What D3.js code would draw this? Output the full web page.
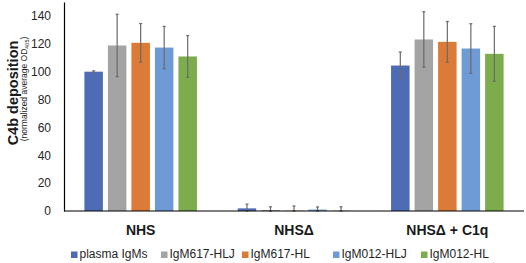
<!DOCTYPE html>
<meta charset="utf-8">
<head>
<style>
body { margin: 0; background: #fff; }
text { font-family: "Liberation Sans", Arial, sans-serif; }
.axis text { font-size: 12px; fill: #262626; }
.axis path, .axis line { stroke: #000; }
</style>
</head>
<body>
<svg width="526" height="263"></svg>
<script src="https://cdn.jsdelivr.net/npm/d3@7"></script>
<script>
var groups = ["NHS", "NHS\u0394", "NHS\u0394 + C1q"];
var series = ["plasma IgMs", "IgM617-HLJ", "IgM617-HL", "IgM012-HLJ", "IgM012-HL"];
var colors = ["#4e6cb6", "#a4a4a4", "#db7b37", "#6e9bd6", "#7dac4c"];
// values[group][series]
var values = [
  [100, 118.8, 120.7, 117.3, 110.9],
  [1.9, 0.7, 0.2, 1.0, 0.2],
  [104.4, 123.1, 121.4, 116.6, 112.8]
];
var errors = [
  [0.6, 22.4, 13.8, 15.2, 15.0],
  [3.0, 2.3, 3.4, 1.9, 2.8],
  [9.7, 19.9, 14.6, 17.8, 19.7]
];
var yTicks = [0, 20, 40, 60, 80, 100, 120, 140];

var svg = d3.select("svg"),
    margin = {top: 2, right: 2, bottom: 52, left: 64},
    width = +svg.attr("width") - margin.left - margin.right,
    height = +svg.attr("height") - margin.top - margin.bottom,
    g = svg.append("g").attr("transform", "translate(" + margin.left + "," + margin.top + ")");

var x0 = d3.scaleBand().domain(groups).range([0, width]).paddingInner(0.266).paddingOuter(0.133);
var x1 = d3.scaleBand().domain(series).range([0, x0.bandwidth()]).paddingInner(0.213).paddingOuter(0);
var y = d3.scaleLinear().domain([0, 150]).range([height, 0]);
var color = d3.scaleOrdinal().domain(series).range(colors);

var yAxis = g.append("g")
    .attr("class", "axis")
    .call(d3.axisLeft(y).tickValues(yTicks).tickSize(0).tickPadding(13));
yAxis.select(".domain").attr("stroke-width", 1.2);

var data = [];
groups.forEach(function(gr, i) {
  series.forEach(function(s, j) {
    data.push({group: gr, series: s, value: values[i][j], err: errors[i][j]});
  });
});

g.selectAll("rect.bar")
  .data(data)
  .enter().append("rect")
    .attr("class", "bar")
    .attr("x", function(d) { return x0(d.group) + x1(d.series); })
    .attr("width", x1.bandwidth())
    .attr("y", function(d) { return y(d.value); })
    .attr("height", function(d) { return y(0) - y(d.value); })
    .attr("fill", function(d) { return color(d.series); });

var eb = g.selectAll("g.err")
  .data(data)
  .enter().append("g")
    .attr("class", "err")
    .attr("stroke", "#6a6a6a")
    .attr("stroke-width", 1.2);
eb.append("line")
    .attr("x1", function(d) { return x0(d.group) + x1(d.series) + x1.bandwidth() / 2; })
    .attr("x2", function(d) { return x0(d.group) + x1(d.series) + x1.bandwidth() / 2; })
    .attr("y1", function(d) { return y(d.value + d.err); })
    .attr("y2", function(d) { return y(Math.max(0, d.value - d.err)); });
[1, -1].forEach(function(sign) {
  eb.append("line")
      .attr("x1", function(d) { return x0(d.group) + x1(d.series) + x1.bandwidth() / 2 - 1.5; })
      .attr("x2", function(d) { return x0(d.group) + x1(d.series) + x1.bandwidth() / 2 + 1.5; })
      .attr("y1", function(d) { return y(Math.max(0, d.value + sign * d.err)); })
      .attr("y2", function(d) { return y(Math.max(0, d.value + sign * d.err)); });
});

// x axis baseline
g.append("line")
    .attr("x1", 0).attr("x2", width)
    .attr("y1", y(0)).attr("y2", y(0))
    .attr("stroke", "#000").attr("stroke-width", 1.2);

g.selectAll("text.cat")
  .data(groups)
  .enter().append("text")
    .attr("class", "cat")
    .attr("x", function(d) { return x0(d) + x0.bandwidth() / 2; })
    .attr("y", height + 24)
    .attr("text-anchor", "middle")
    .style("font-size", "14px")
    .style("font-weight", "bold")
    .attr("fill", "#1a1a1a")
    .text(function(d) { return d; });

// y title
svg.append("text")
    .attr("transform", "translate(18,93) rotate(-90)")
    .attr("text-anchor", "middle")
    .style("font-size", "14.5px")
    .style("font-weight", "bold")
    .attr("fill", "#1a1a1a")
    .text("C4b deposition");
var sub = svg.append("text")
    .attr("transform", "translate(26.5,89) rotate(-90)")
    .attr("text-anchor", "middle")
    .style("font-size", "8.5px")
    .attr("fill", "#1a1a1a");
sub.append("tspan").text("(normalized average OD");
sub.append("tspan").attr("font-size", "5.5px").attr("dy", 2).text("405");
sub.append("tspan").attr("dy", -2).text(")");

// legend
var legendX = [71, 161, 242, 333, 421];
var lg = svg.selectAll("g.leg")
  .data(series)
  .enter().append("g")
    .attr("class", "leg")
    .attr("transform", function(d, i) { return "translate(" + legendX[i] + ",258)"; });
lg.append("rect")
    .attr("x", 0).attr("y", -6.5)
    .attr("width", 6.5).attr("height", 6.5)
    .attr("fill", function(d) { return color(d); });
lg.append("text")
    .attr("x", 8.5).attr("y", 0)
    .style("font-size", "12px")
    .attr("fill", "#262626")
    .text(function(d) { return d; });
</script>
</body>
</html>
